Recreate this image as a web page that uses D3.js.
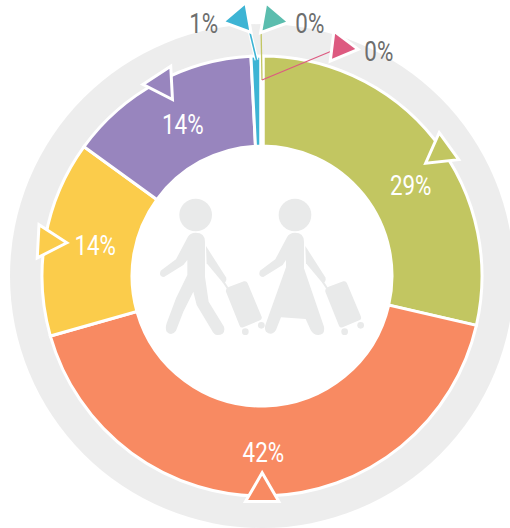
<!DOCTYPE html>
<html>
<head>
<meta charset="utf-8">
<script src="https://cdn.jsdelivr.net/npm/d3@7"></script>
<style>
  html, body { margin: 0; padding: 0; background: #fff; }
  svg { display: block; }
  text { font-family: Roboto, sans-serif; font-weight: 400; font-size: 28px; text-anchor: middle; }
</style>
</head>
<body>
<svg id="chart"></svg>
<script>
// data
const categories = ["a", "b", "c", "d", "e", "f", "g"];
const values = [28.6, 42, 14.4, 14.2, 0.8, 0, 0];
const colors = ["#c2c661", "#f88a62", "#fbcc4b", "#9885be", "#3db4d4", "#5bbdae", "#dd5a80"];

const width = 510, height = 528;
const cx = 262, cy = 276;
const rad = a => a * Math.PI / 180;
const polar = (r, deg) => [cx + r * Math.sin(rad(deg)), cy - r * Math.cos(rad(deg))];

// marker placement, one row per slice: angle shift from slice middle, radius, rotation, triangle size
const markers = [
  { shift: 3.8, r: 218, rot: -6, size: 480 },
  { shift: 1.4, r: 216, rot: 0, size: 480 },
  { shift: -1, r: 217, rot: 93, size: 480 },
  { shift: 1, r: 217, rot: 267, size: 480 },
  { shift: -3.5, r: 258, rot: -100, size: 400 },
  { shift: 2.2, r: 257, rot: 100, size: 400 },
  { shift: 19, r: 242, rot: 97, size: 400 }
];

const svg = d3.select("#chart").attr("width", width).attr("height", height);
const root = svg.append("g").attr("transform", `translate(${cx},${cy})`);

// grey outer ring
root.append("circle").attr("r", 252).attr("fill", "#ededed");

const pie = d3.pie().sort(null).value(d => d).startAngle(0).endAngle(2 * Math.PI);
const arcs = pie(values);
const arc = d3.arc().innerRadius(130).outerRadius(220);

root.selectAll("path.slice")
  .data(arcs)
  .join("path")
    .attr("class", "slice")
    .attr("d", arc)
    .attr("fill", (d, i) => colors[i])
    .attr("stroke", "#fff")
    // the zero slices leave a wider white gap at the top
    .attr("stroke-width", d => d.value === 0 ? 5 : 3);

// white hole
root.append("circle").attr("r", 130).attr("fill", "#fff");

const midDeg = d => (d.startAngle + d.endAngle) / 2 * 180 / Math.PI;

// leader lines for the three small slices
const leaders = [
  { i: 4, from: 216, to: 244, toShift: -1.4, halo: true, color: colors[4], w: 1.6 },
  { i: 5, from: 196, to: 243, toShift: -0.2, halo: false, color: colors[0], w: 1.3 },
  { i: 6, from: 196, to: 242, toShift: 19, halo: false, color: colors[6], w: 1.2 }
];
leaders.forEach(l => {
  const a = arcs[l.i];
  const p0 = polar(l.from, midDeg(a));
  const p1 = polar(l.to, midDeg(a) + l.toShift);
  if (l.halo) {
    svg.append("line").attr("x1", p0[0]).attr("y1", p0[1]).attr("x2", p1[0]).attr("y2", p1[1])
      .attr("stroke", "#fff").attr("stroke-width", 4);
  }
  svg.append("line").attr("x1", p0[0]).attr("y1", p0[1]).attr("x2", p1[0]).attr("y2", p1[1])
    .attr("stroke", l.color).attr("stroke-width", l.w);
});

// triangle markers
const tri = d3.symbol().type(d3.symbolTriangle);
arcs.forEach((a, i) => {
  const m = markers[i];
  const p = polar(m.r, midDeg(a) + m.shift);
  svg.append("path")
    .attr("d", tri.size(m.size)())
    .attr("transform", `translate(${p[0]},${p[1]}) rotate(${m.rot})`)
    .attr("fill", colors[i])
    .attr("stroke", "#fff")
    .attr("stroke-width", 3);
});

// labels, squeezed since no condensed face is installed
const label = (x, y, txt, fill) => svg.append("text")
  .attr("transform", `translate(${x},${y}) scale(0.8,1)`)
  .attr("dy", "0.36em")
  .attr("fill", fill)
  .text(txt);

const labelNudge = [2, 0, 4, 1];
arcs.forEach((a, i) => {
  const txt = Math.round(values[i]) + "%";
  const m = markers[i];
  if (i < 4) {
    const p = polar(174, midDeg(a) + (i === 0 ? 6 : 1));
    label(p[0] + labelNudge[i], p[1] + 2, txt, "#fff");
  } else {
    const p = polar(m.r, midDeg(a) + m.shift);
    label(p[0] + (i === 4 ? -36 : 38), p[1] + 4, txt, "#6d6e6e");
  }
});

// travellers in the hole, traced at 3x
const icon = svg.append("g").attr("transform", "translate(140,180) scale(0.3333)").attr("fill", "#e9eaea");

const backArm = "M198 198 L258 292 Q262 305 250 310 L200 250 Z";
const suitcase = "M268 320 L312 304 Q320 302 323 310 L365 410 Q367 418 360 421 L310 442 Q302 445 299 437 L258 335 Q256 325 268 320 Z";
const handle = "M250 305 L263 325";

const man = icon.append("g");
man.append("circle").attr("cx", 167).attr("cy", 105).attr("r", 49);
man.append("path").attr("d", "M167 158 Q195 158 195 185 L195 290 L206 365 L252 440 Q258 465 232 465 Q222 465 215 450 L170 375 L160 335 L130 395 L108 452 Q95 470 80 455 Q75 445 80 430 L108 355 L142 285 L142 240 L130 255 L72 291 Q55 290 62 272 L108 238 L143 172 Q150 158 167 158 Z");

const woman = icon.append("g");
woman.append("circle").attr("cx", 465).attr("cy", 105).attr("r", 49);
woman.append("path").attr("d", "M465 158 Q492 158 492 185 L492 265 L552 440 Q556 465 535 465 Q520 465 512 450 L497 417 L423 412 L408 450 Q395 470 378 455 Q372 445 378 430 L438 262 L438 240 L428 255 L370 291 Q353 290 360 272 L406 238 L441 172 Q448 158 465 158 Z");

[[0, man], [298, woman]].forEach(([dx, g]) => {
  const t = g.append("g").attr("transform", `translate(${dx},0)`);
  t.append("path").attr("d", backArm);
  t.append("path").attr("d", suitcase);
  t.append("path").attr("d", handle).attr("stroke", "#e9eaea").attr("stroke-width", 6).attr("fill", "none");
  t.append("circle").attr("cx", 316).attr("cy", 455).attr("r", 10);
  t.append("circle").attr("cx", 364).attr("cy", 436).attr("r", 10);
});
</script>
</body>
</html>
